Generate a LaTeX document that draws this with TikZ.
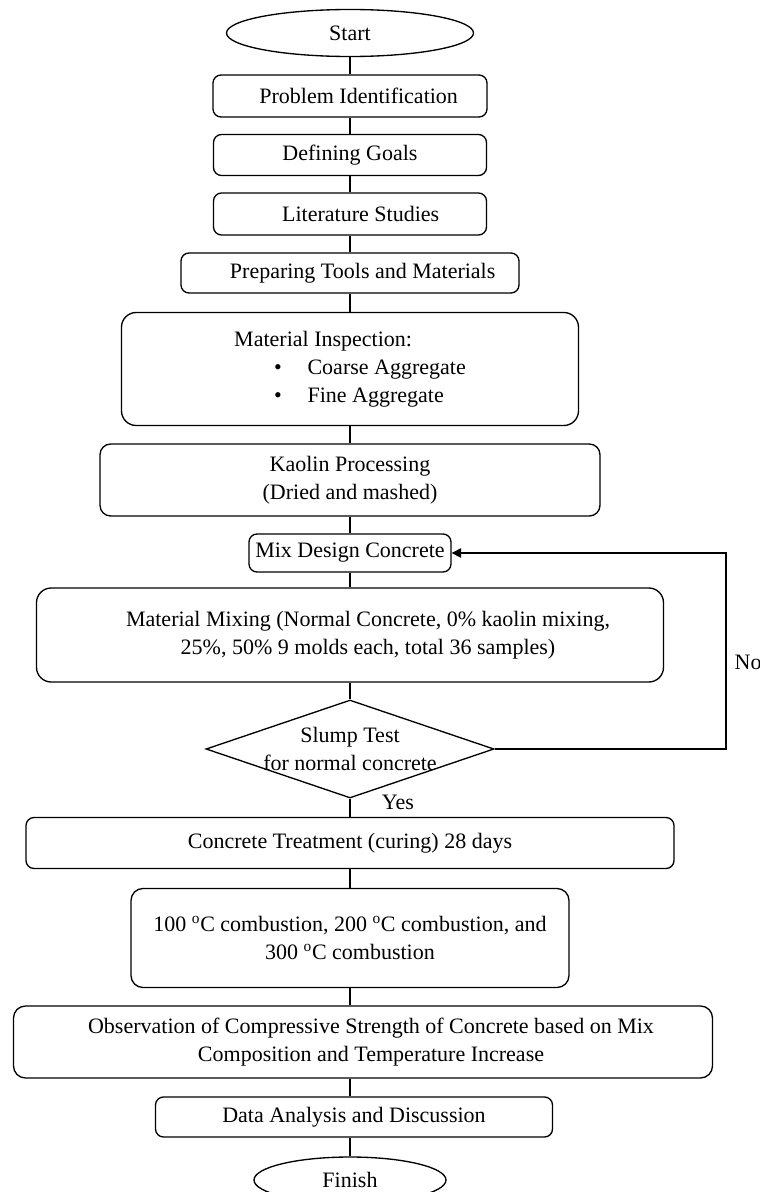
\documentclass[tikz,border=0pt]{standalone}
\usepackage{fontspec}
\setmainfont{Liberation Serif}
\usetikzlibrary{shapes.geometric,arrows.meta}

\tikzset{
  boxsize/.style 2 args={minimum width=#1*0.75pt, minimum height=#2*0.75pt},
  stepbox/.style={draw, rounded corners=6pt, inner sep=0pt, align=center},
  bigbox/.style={stepbox, rounded corners=11pt},
  terminal/.style={draw, ellipse, inner sep=0pt},
  decision/.style={draw, diamond, inner sep=0pt},
  flow/.style={-{Triangle[length=7pt,width=7pt]}}
}

\begin{document}
\begin{tikzpicture}[x=0.75pt, y=-0.75pt, line width=1pt, font=\fontsize{16.5}{21}\selectfont]
\useasboundingbox (0,0) rectangle (760,1192);
\node[terminal, boxsize={247}{47}] (start) at (350,33) {Start};
\node[stepbox, boxsize={274}{42}] (ident) at (350,96) {\hspace*{13pt}Problem Identification};
\node[stepbox, boxsize={273}{41}] (goals) at (350,155) {Defining Goals};
\node[stepbox, boxsize={273}{42}] (lit) at (350,214) {\hspace*{16pt}Literature Studies};
\node[stepbox, boxsize={338}{40}] (tools) at (350,273) {\hspace*{19pt}Preparing Tools and Materials};
\node[bigbox, boxsize={457}{113}, align=left] (inspect) at (350,369) {Material Inspection:\\
  \hspace*{30pt}\makebox[25pt][l]{\textbullet}Coarse Aggregate\\
  \hspace*{30pt}\makebox[25pt][l]{\textbullet}Fine Aggregate};
\node[stepbox, rounded corners=8pt, boxsize={500}{72}] (kaolin) at (350,480) {Kaolin Processing\\(Dried and mashed)};
\node[stepbox, boxsize={202}{38}] (mixdesign) at (350,553) {Mix Design Concrete};
\node[bigbox, boxsize={627}{94}] (mixing) at (350,635) {\hspace*{27pt}Material Mixing (Normal Concrete, 0\% kaolin mixing,\\\hspace*{27pt}25\%, 50\% 9 molds each, total 36 samples)};
\node[decision, boxsize={288}{98}] (slump) at (350,749) {};
\node[align=center, inner sep=0pt] (slumptext) at (slump.center) {Slump Test\\for normal concrete};
\node[stepbox, boxsize={648}{51}] (treat) at (350,843) {Concrete Treatment (curing) 28 days};
\node[bigbox, rounded corners=9pt, boxsize={438}{99}] (burn) at (350,938) {100 \textsuperscript{o}C combustion, 200 \textsuperscript{o}C combustion, and\\300 \textsuperscript{o}C combustion};
\node[bigbox, rounded corners=9pt, boxsize={699}{72}] (observe) at (363,1042) {\hspace*{12pt}Observation of Compressive Strength of Concrete based on Mix\\\hspace*{12pt}Composition and Temperature Increase};
\node[stepbox, boxsize={397}{40}] (analysis) at (354,1117) {Data Analysis and Discussion};
\node[terminal, boxsize={192}{46}] (finish) at (350,1180) {Finish};
\node (yes) at (398,802) {Yes};
\node[anchor=west, inner sep=0pt] (no) at (734,662) {No};
\coordinate (turn) at (726,553);

\draw (start) -- (ident);
\draw (ident) -- (goals);
\draw (goals) -- (lit);
\draw (lit) -- (tools);
\draw (tools) -- (inspect);
\draw (inspect) -- (kaolin);
\draw (kaolin) -- (mixdesign);
\draw (mixdesign) -- (mixing);
\draw (mixing) -- (slump);
\draw (slump) -- (treat);
\draw (treat) -- (burn);
\draw (burn) -- (burn |- observe.north);
\draw (observe.south -| burn) -- (analysis.north -| burn);
\draw (analysis.south -| burn) -- (finish);
\draw[flow] (slump.east) -| (turn) -- (mixdesign.east);
\end{tikzpicture}
\end{document}
